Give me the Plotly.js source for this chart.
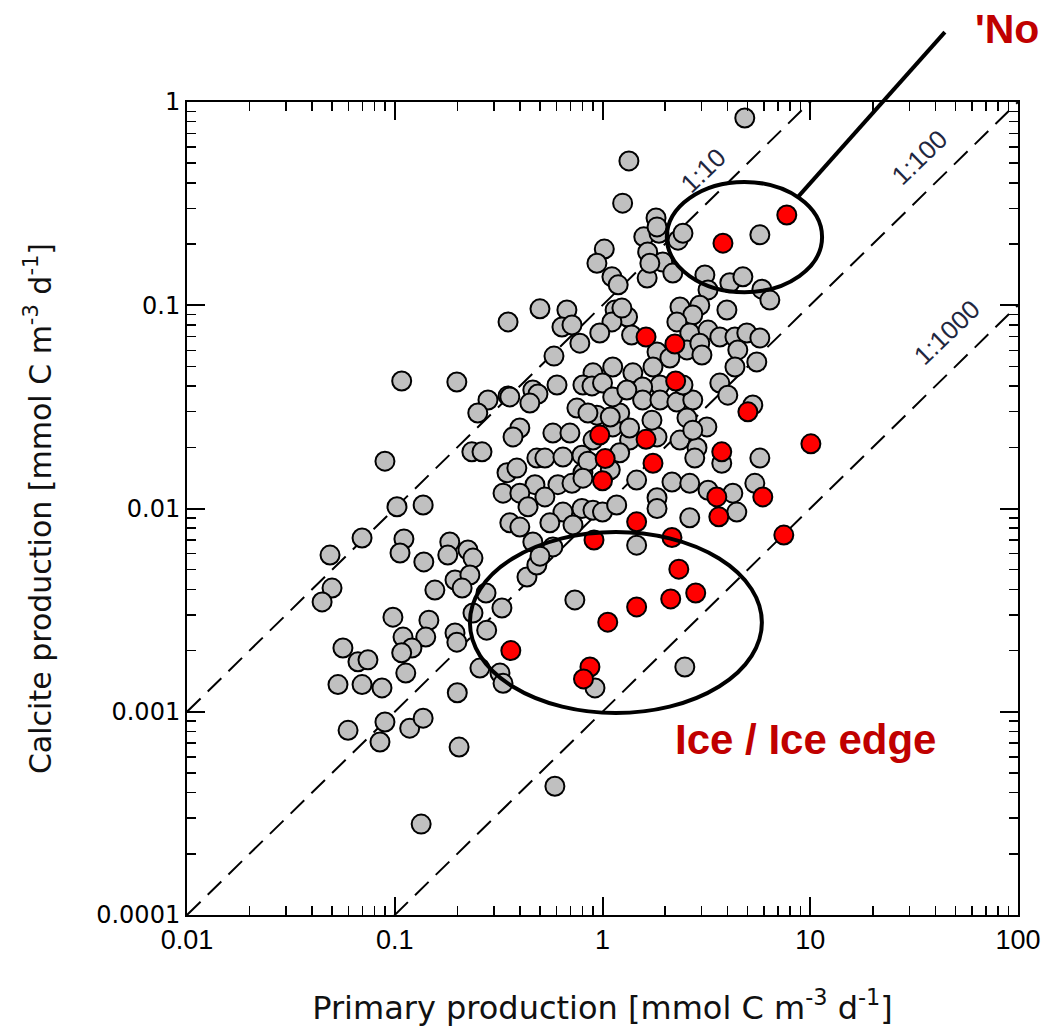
<!DOCTYPE html>
<html><head><meta charset="utf-8">
<script src="https://cdn.plot.ly/plotly-3.0.1.min.js"></script>
<style>html,body{margin:0;padding:0;background:#fff}</style>
</head><body><div id="chart" style="width:1041px;height:1033px"></div>
<script>
// Primary production (x) and calcite production (y), mmol C m-3 d-1
const grayPP = [4.84,1.34,1.25,1.81,1.58,1.87,2.31,2.44,1.65,1.95,2.18,1.64,1.02,0.94,1.11,1.19,5.72,3.11,3.22,4.10,4.74,5.85,6.39,3.97,1.83,
2.36,2.94,2.72,2.28,2.63,3.22,1.32,1.38,1.83,2.55,2.94,3.67,4.34,4.95,5.72,4.48,5.53,2.11,3.01,1.15,1.11,0.97,4.34,3.67,4.01,5.29,5.72,
1.12,0.90,1.40,1.75,1.89,1.56,1.56,1.89,2.28,2.72,2.55,3.18,2.36,2.85,0.94,1.12,1.21,1.83,1.35,1.21,1.09,1.46,2.16,2.63,3.22,4.24,5.41,1.83,0.805,
0.50,0.674,0.351,0.638,0.713,0.778,0.584,0.805,0.604,0.462,0.489,0.447,0.351,0.281,0.251,0.108,0.199,0.40,0.371,0.577,0.697,0.753,0.851,1.09,0.90,
0.235,0.263,0.483,0.528,0.645,0.796,0.851,0.0897,0.347,0.387,0.473,0.61,0.713,0.805,0.332,0.40,0.528,0.438,0.645,0.796,0.90,1.0,1.17,0.358,0.558,0.721,
0.1025,0.137,0.358,0.89,1.0,1.12,1.24,1.31,2.44,1.73,2.72,1.35,2.78,3.75,4.43,1.83,2.63,1.69,
0.0696,0.0488,0.0499,0.0447,0.1107,0.106,0.138,0.184,0.180,0.225,0.238,0.195,0.23,0.211,0.156,0.275,0.238,0.328,0.098,0.146,0.141,0.1096,0.121,0.108,
0.195,0.199,0.277,0.0563,0.0665,0.0743,0.113,0.0533,0.0696,0.0868,0.257,0.321,0.332,0.20,0.0897,0.0596,0.118,0.137,0.0849,0.204,0.59,0.134,
0.736,0.92,2.49,1.46,0.433,0.483,0.40,0.462,0.577,0.50];
const grayCP = [0.834,0.513,0.318,0.269,0.217,0.226,0.209,0.226,0.183,0.163,0.144,0.136,0.189,0.161,0.138,0.126,0.222,0.141,0.119,0.129,0.138,0.120,0.106,0.0948,0.243,
0.098,0.100,0.0895,0.0828,0.0730,0.0755,0.0875,0.0714,0.0589,0.0603,0.0651,0.0698,0.0698,0.0730,0.0690,0.0603,0.0526,0.0550,0.0569,0.0948,0.0828,0.0730,0.0497,0.0414,0.0361,0.0323,0.0177,
0.0497,0.0465,0.0465,0.0497,0.0405,0.0396,0.0342,0.0342,0.0334,0.0342,0.0279,0.0252,0.0217,0.0199,0.0288,0.0252,0.0295,0.0225,0.0217,0.0188,0.0155,0.0138,0.0135,0.0133,0.0123,0.0119,0.0133,0.0113,0.0150,
0.096,0.0948,0.0828,0.0782,0.0800,0.0651,0.0562,0.0405,0.0405,0.0383,0.0366,0.0330,0.0358,0.0342,0.0295,0.0424,0.0419,0.0249,0.0225,0.0235,0.0235,0.0312,0.0295,0.0282,0.0217,
0.0190,0.0190,0.0177,0.0177,0.0179,0.0183,0.0171,0.0171,0.0150,0.0158,0.0131,0.0131,0.0133,0.0141,0.0119,0.0119,0.0114,0.0102,0.0096,0.0100,0.0098,0.0096,0.0104,0.0085,0.0085,0.0083,
0.0102,0.0104,0.0354,0.0401,0.0414,0.0354,0.0968,0.0383,0.0405,0.0272,0.0243,0.0249,0.0177,0.0167,0.0096,0.0100,0.0090,0.161,
0.00716,0.0059,0.00406,0.00347,0.00708,0.00604,0.00546,0.00684,0.0059,0.00625,0.0057,0.00445,0.00471,0.00406,0.00397,0.00384,0.00306,0.00324,0.00292,0.00282,0.00233,0.00233,0.00206,0.00195,
0.00244,0.00220,0.00252,0.00206,0.00176,0.00180,0.00155,0.00136,0.00136,0.00131,0.00164,0.00155,0.00138,0.00124,0.00089,0.00081,0.00083,0.00093,0.00071,0.00067,0.00043,0.00028,
0.00355,0.00131,0.00166,0.0066,0.0046,0.00527,0.0081,0.00684,0.00647,0.00583];
const redPP = [7.71,3.80,1.62,2.23,2.25,5.01,0.97,1.62,3.75,10.07,1.03,1.75,1.0,3.55,3.63,5.91,1.46,0.91,2.16,7.46,2.33,2.81,2.13,1.46,1.06,0.362,0.87,0.81];
const redCP = [0.278,0.202,0.0698,0.0645,0.0424,0.0299,0.0230,0.0219,0.0190,0.0208,0.0176,0.0167,0.0137,0.0114,0.0091,0.0114,0.0086,0.0070,0.0072,0.0074,0.00503,0.00384,0.00359,0.00328,0.00276,0.0020,0.00166,0.00145];
const ratios = [10, 100, 1000];
const ratioLabels = ['1:10', '1:100', '1:1000'];
const xTickVals = [0.01, 0.1, 1, 10, 100];
const xTickText = ['0.01', '0.1', '1', '10', '100'];
const yTickVals = [0.0001, 0.001, 0.01, 0.1, 1];
const yTickText = ['0.0001', '0.001', '0.01', '0.1', '1'];
const xRangeData = [0.01, 100];

const traces = ratios.map(r => ({
  x: xRangeData, y: xRangeData.map(v => v / r), mode: 'lines', type: 'scatter',
  line: {color: '#000', width: 2, dash: '19px,10px'}, hoverinfo: 'skip', showlegend: false
}));
traces.push({x: grayPP, y: grayCP, mode: 'markers', type: 'scatter', showlegend: false,
  marker: {size: 19, color: '#c0c0c0', line: {color: '#000', width: 2}}});
traces.push({x: redPP, y: redCP, mode: 'markers', type: 'scatter', showlegend: false,
  marker: {size: 19, color: '#ff0000', line: {color: '#000', width: 2}}});

const minorVals = [];
[-4,-3,-2,-1,0,1].forEach(k => { for (let d = 2; d <= 9; d++) minorVals.push(d * Math.pow(10, k)); });

const axisCommon = {
  type: 'log', showgrid: false, zeroline: false, showline: true, linecolor: '#000', linewidth: 2,
  mirror: 'ticks', ticks: 'inside', ticklen: 18, tickwidth: 2, tickcolor: '#000', tickmode: 'array',
  minor: {tickmode: 'array', tickvals: minorVals, ticks: 'inside', ticklen: 9, tickwidth: 1.5, tickcolor: '#000', showgrid: false}
};

const labelPos = [[0.622, 0.916], [0.882, 0.932], [0.915, 0.717]];
const annotations = ratioLabels.map((t, i) => ({
  text: t, xref: 'paper', yref: 'paper', x: labelPos[i][0], y: labelPos[i][1], xanchor: 'center', yanchor: 'middle',
  showarrow: false, textangle: -44, font: {family: 'Liberation Sans', size: 26, color: '#1f2740'}
}));
annotations.push({text: 'Ice / Ice edge', xref: 'paper', yref: 'paper', x: 0.585, y: 0.216, xanchor: 'left', yanchor: 'middle',
  showarrow: false, font: {family: 'Liberation Sans', size: 42, color: '#c00000', weight: 'bold'}});
annotations.push({text: "'No", xref: 'paper', yref: 'paper', x: 0.946, y: 1.090, xanchor: 'left', yanchor: 'middle',
  showarrow: false, font: {family: 'Liberation Sans', size: 41, color: '#c00000', weight: 'bold'}});

const layout = {
  width: 1041, height: 1033, margin: {l: 187, r: 23, t: 102, b: 118},
  paper_bgcolor: '#fff', plot_bgcolor: '#fff', showlegend: false,
  xaxis: Object.assign({}, axisCommon, {range: [-2, 2], tickvals: xTickVals, ticktext: xTickText,
    tickfont: {family: 'Liberation Sans', size: 27, color: '#000'},
    title: {text: 'Primary production [mmol C m<sup>-3</sup> d<sup>-1</sup>]', font: {family: 'DejaVu Sans', size: 32, color: '#111'}, standoff: 42}}),
  yaxis: Object.assign({}, axisCommon, {range: [-4, 0], tickvals: yTickVals, ticktext: yTickText,
    tickfont: {family: 'DejaVu Sans', size: 24, color: '#000'},
    title: {text: 'Calcite production [mmol C m<sup>-3</sup> d<sup>-1</sup>]', font: {family: 'DejaVu Sans', size: 30, color: '#111'}, standoff: 36}}),
  shapes: [
    {type: 'circle', xref: 'x', yref: 'y', x0: 2.04, x1: 11.4, y0: 0.116, y1: 0.404, line: {color: '#000', width: 4}},
    {type: 'circle', xref: 'x', yref: 'y', x0: 0.230, x1: 5.85, y0: 0.000986, y1: 0.00766, line: {color: '#000', width: 4}},
    {type: 'line', xref: 'paper', yref: 'paper', x0: 0.735, y0: 0.883, x1: 0.912, y1: 1.086, line: {color: '#000', width: 4}}
  ],
  annotations: annotations
};
Plotly.newPlot('chart', traces, layout, {displayModeBar: false, staticPlot: true});
</script></body></html>
